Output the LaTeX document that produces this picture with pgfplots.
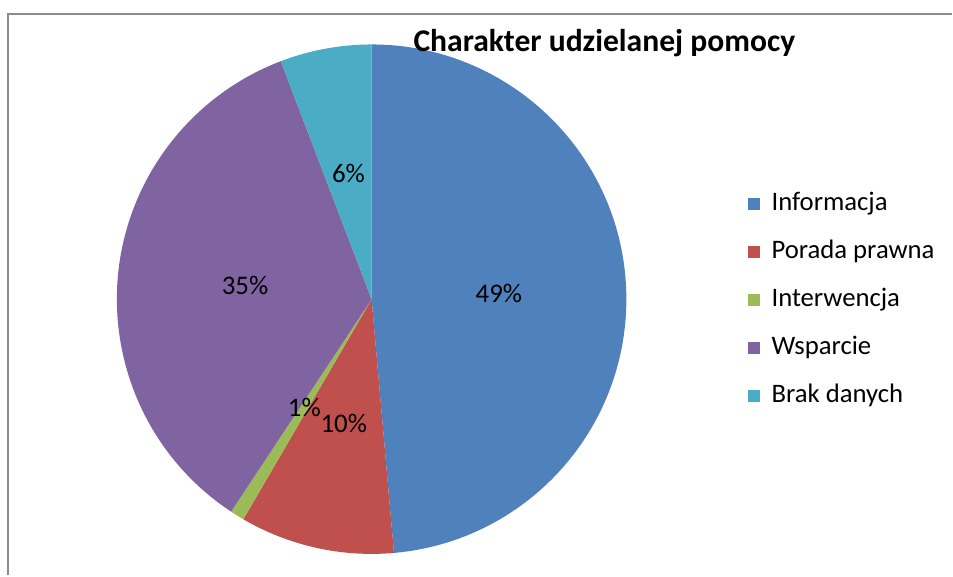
\documentclass[border=0pt]{standalone}
\usepackage{fontspec}
\setmainfont{Carlito}
\usepackage{pgfplots}
\usepackage{pgfplotstable}
\pgfplotsset{compat=1.18}

\definecolor{c0}{HTML}{4F81BD}
\definecolor{c1}{HTML}{C0504D}
\definecolor{c2}{HTML}{9BBB59}
\definecolor{c3}{HTML}{8064A2}
\definecolor{c4}{HTML}{4BACC6}
\definecolor{framegray}{HTML}{8C8C8C}

% shares of each kind of help (percent)
\pgfplotstableread[col sep=comma]{
name,value,pct
Informacja,48.6,49
Porada prawna,9.8,10
Interwencja,0.9,1
Wsparcie,34.9,35
Brak danych,5.8,6
}\piedata

\tikzset{
  pct/.style={font=\fontsize{15.3}{18}\selectfont, inner sep=0pt},
  lg/.style={font=\fontsize{15.2}{18}\selectfont, inner sep=0pt, anchor=base west},
}

\begin{document}
\begin{tikzpicture}
\def\pcx{7.44}\def\pcy{5.53}\def\pR{5.10}
\xdef\pieCum{90}
\foreach \i in {0,...,4}{%
  \pgfplotstablegetelem{\i}{value}\of\piedata
  \pgfmathsetmacro\pieEnd{\pieCum-3.6*\pgfplotsretval}
  \pgfmathsetmacro\pieMid{(\pieCum+\pieEnd)/2}
  \pgfmathsetmacro\pieSX{\pcx+\pR*cos(\pieCum)}
  \pgfmathsetmacro\pieSY{\pcy+\pR*sin(\pieCum)}
  \pgfmathsetmacro\pieLX{\pcx+0.5*\pR*cos(\pieMid)}
  \pgfmathsetmacro\pieLY{\pcy+0.5*\pR*sin(\pieMid)}
  \pgfmathsetmacro\legB{7.31-0.96*\i}
  \pgfmathsetmacro\legT{7.55-0.96*\i}
  \pgfplotstablegetelem{\i}{pct}\of\piedata \let\piePct\pgfplotsretval
  \pgfplotstablegetelem{\i}{name}\of\piedata \let\pieName\pgfplotsretval
  \expandafter\xdef\csname pieDraw\i\endcsname{%
    \noexpand\fill[c\i] (axis cs:\pcx,\pcy) -- (axis cs:\pieSX,\pieSY)
      arc[start angle=\pieCum, end angle=\pieEnd, radius=\pR] -- cycle;
  }%
  \expandafter\xdef\csname pieText\i\endcsname{%
    \noexpand\node[pct] at (axis cs:\pieLX,\pieLY) {\piePct\noexpand\%};
    \noexpand\fill[c\i] (axis cs:14.98,\legB) rectangle (axis cs:15.22,\legT);
    \noexpand\node[lg] at (axis cs:15.44,\legB) {\pieName};
  }%
  \xdef\pieCum{\pieEnd}
}
\begin{axis}[
  scale only axis,
  width=19.06cm, height=11.52cm,
  xmin=0, xmax=19.06, ymin=0, ymax=11.52,
  hide axis, clip=false,
]
\path (rel axis cs:0,0) rectangle (rel axis cs:1,1);
\draw[framegray, line width=0.04cm] (axis cs:0.17,0) -- (axis cs:0.17,11.24) -- (axis cs:19.06,11.24);
\pgfplotsinvokeforeach{0,...,4}{\csname pieDraw#1\endcsname}
\pgfplotsinvokeforeach{0,...,4}{\csname pieText#1\endcsname}
\node[font=\bfseries\fontsize{18}{22}\selectfont, anchor=base, inner sep=0pt]
  at (axis cs:12.1,10.48) {Charakter udzielanej pomocy};
\end{axis}
\end{tikzpicture}
\end{document}
